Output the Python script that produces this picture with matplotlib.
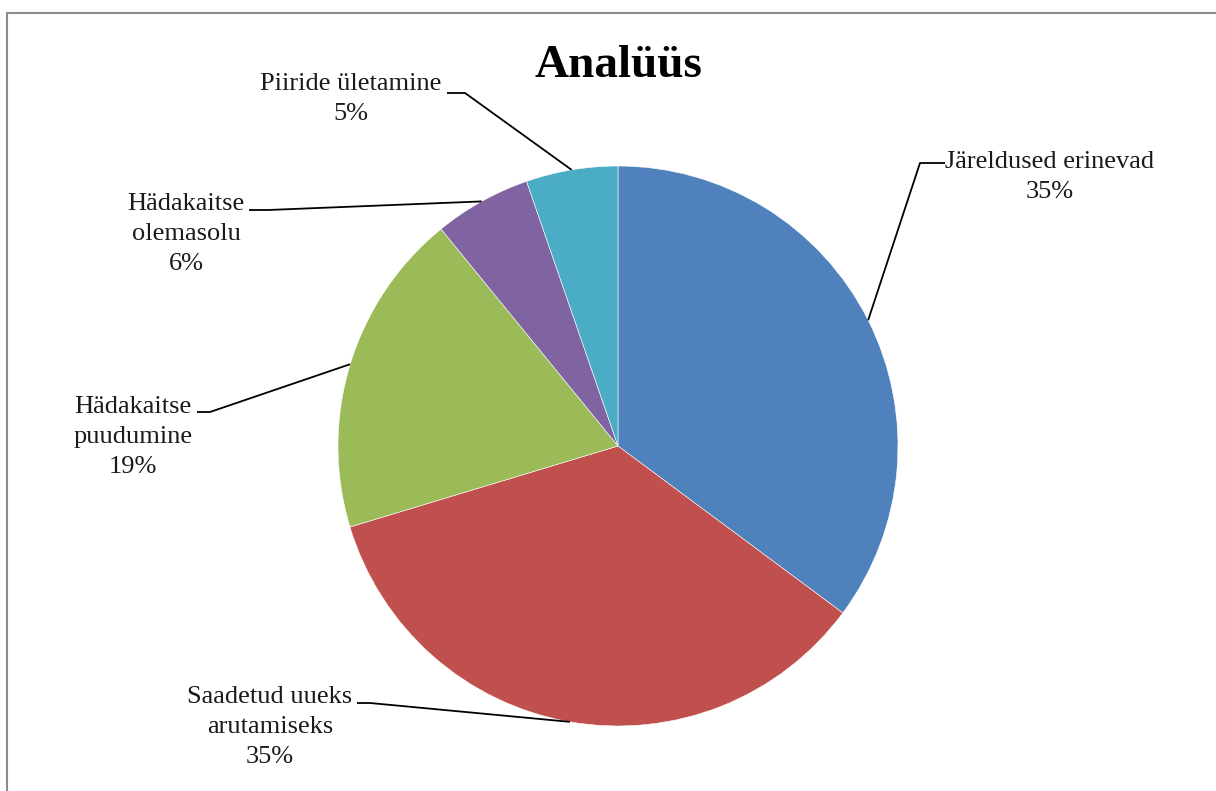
import numpy as np
import matplotlib
matplotlib.use("Agg")
import matplotlib.pyplot as plt
from matplotlib.patches import Rectangle

categories = ["Järeldused erinevad", "Saadetud uueks\narutamiseks", "Hädakaitse\npuudumine",
              "Hädakaitse\nolemasolu", "Piiride ületamine"]
values = [35.2, 35.2, 18.8, 5.6, 5.3]
colors = ["#4F81BD", "#C0504D", "#9BBB59", "#8064A2", "#4BACC6"]

# label block centres and leader-line stub (pixel coords, y downwards)
label_pos = [(1050, 177), (270, 727), (133, 437), (186, 234), (351, 99)]
stub = [((945, 163), (920, 163)), ((357, 703), (370, 703)), ((197, 412), (210, 412)),
        ((249, 210), (268, 210)), ((447, 93), (465, 93))]

W, H = 1216, 791
cx, cy, R = 618, 446, 280

plt.rcParams['font.family'] = ['Liberation Serif', 'DejaVu Serif']
fig = plt.figure(figsize=(W / 100, H / 100), dpi=100)
ax = fig.add_axes([0, 0, 1, 1])
ax.axis('off')

wedges, _ = ax.pie(values, colors=colors, startangle=90, counterclock=False,
                   center=(cx, H - cy), radius=R,
                   wedgeprops=dict(edgecolor='white', linewidth=0.4))
ax.set_xlim(0, W)
ax.set_ylim(0, H)
ax.set_aspect('auto')

total = sum(values)
for w, name, v, (lx, ly), (s0, s1) in zip(wedges, categories, values, label_pos, stub):
    mid = np.deg2rad((w.theta1 + w.theta2) / 2)
    ex = cx + R * np.cos(mid)
    ey = (H - cy) + R * np.sin(mid)
    ax.plot([s0[0], s1[0], ex], [H - s0[1], H - s1[1], ey], color='black', lw=1.3,
            solid_capstyle='butt')
    pct = round(v / total * 100)
    ax.text(lx, H - ly, f"{name}\n{pct}%", ha='center', va='center', fontsize=19,
            linespacing=1.45, color='#1a1a1a')

ax.text(cx, H - 66, "Analüüs", ha='center', va='center', fontsize=34, fontweight='bold')

fig.patches.append(Rectangle((7 / W, -0.1), 1.2, (H - 13) / H + 0.1, transform=fig.transFigure,
                             fill=False, edgecolor='#8c8c8c', linewidth=1.5))

fig.savefig("out.png", dpi=100)
